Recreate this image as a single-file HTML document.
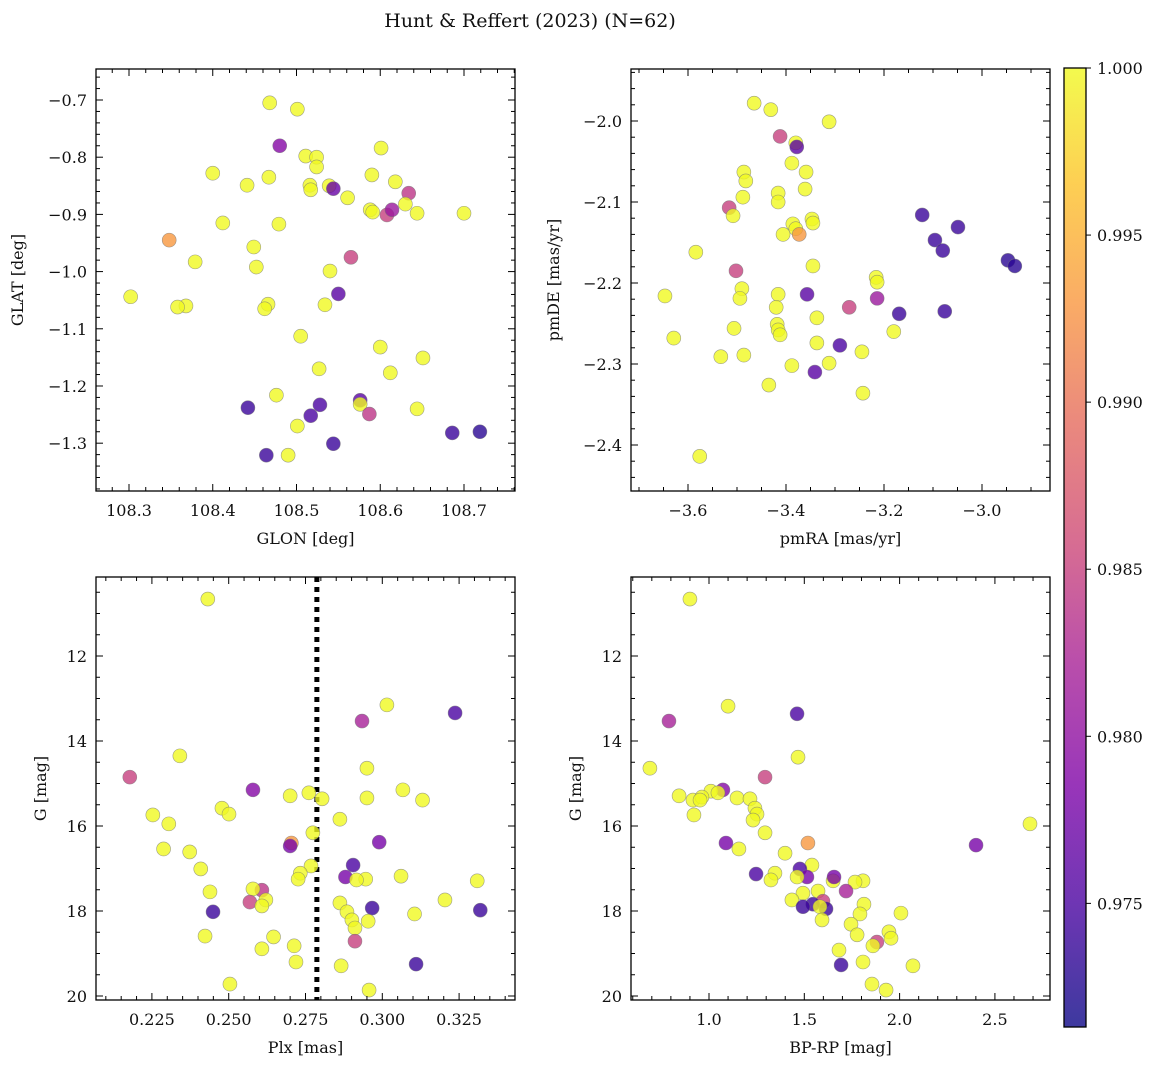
<!DOCTYPE html>
<html><head><meta charset="utf-8"><style>
body{margin:0;background:#fff}
svg text{font-family:"DejaVu Serif","Liberation Serif",serif;fill:#111}
</style></head><body>
<svg id="fig" width="1161" height="1068" xmlns="http://www.w3.org/2000/svg">
<defs><linearGradient id="cbg" x1="0" y1="1" x2="0" y2="0">
<stop offset="0" stop-color="#0d0887"/><stop offset="0.13" stop-color="#4b03a1"/><stop offset="0.25" stop-color="#7e03a8"/><stop offset="0.38" stop-color="#a82296"/><stop offset="0.5" stop-color="#cc4778"/><stop offset="0.63" stop-color="#e56b5d"/><stop offset="0.75" stop-color="#f89540"/><stop offset="0.88" stop-color="#fdc328"/><stop offset="1" stop-color="#f0f921"/></linearGradient></defs>
<text x="530" y="27" font-size="19" text-anchor="middle">Hunt &amp; Reffert (2023) (N=62)</text>
</svg>
<script>
// ---- data ----
const tlGlon=[108.468,108.501,108.480,108.511,108.524,108.524,108.601,108.400,108.467,108.590,108.516,108.517,108.539,108.544,108.441,108.618,108.634,108.630,108.561,108.588,108.591,108.608,108.614,108.644,108.700,108.412,108.479,108.348,108.449,108.379,108.452,108.565,108.540,108.550,108.302,108.466,108.534,108.368,108.358,108.462,108.505,108.651,108.600,108.527,108.612,108.476,108.576,108.576,108.528,108.644,108.442,108.587,108.517,108.501,108.544,108.686,108.719,108.464,108.490];
const tlGlat=[-0.705,-0.716,-0.780,-0.798,-0.800,-0.817,-0.784,-0.828,-0.835,-0.831,-0.849,-0.857,-0.850,-0.855,-0.849,-0.843,-0.863,-0.882,-0.871,-0.892,-0.896,-0.901,-0.892,-0.898,-0.898,-0.915,-0.917,-0.945,-0.957,-0.983,-0.992,-0.975,-0.999,-1.039,-1.044,-1.057,-1.058,-1.060,-1.062,-1.065,-1.113,-1.151,-1.132,-1.170,-1.177,-1.216,-1.225,-1.232,-1.233,-1.240,-1.238,-1.249,-1.252,-1.270,-1.301,-1.282,-1.280,-1.321,-1.321];
const tlProb=[1,1,0.979,1,1,1,1,1,1,1,1,1,1,0.977,1,1,0.984,1,1,1,1,0.985,0.981,1,1,1,1,0.993,1,1,1,0.985,1,0.976,1,1,1,1,1,1,1,1,1,1,1,1,0.976,1,0.975,1,0.974,0.984,0.975,1,0.974,0.974,0.973,0.974,1];

const trPmra=[-3.465,-3.431,-3.412,-3.380,-3.378,-3.312,-3.486,-3.482,-3.388,-3.359,-3.361,-3.416,-3.416,-3.488,-3.516,-3.508,-3.386,-3.380,-3.373,-3.347,-3.345,-3.406,-3.122,-3.096,-3.049,-3.080,-2.947,-2.933,-3.345,-3.584,-3.502,-3.216,-3.214,-3.490,-3.494,-3.647,-3.416,-3.357,-3.420,-3.271,-3.214,-3.169,-3.076,-3.418,-3.416,-3.412,-3.337,-3.629,-3.506,-3.290,-3.337,-3.180,-3.486,-3.245,-3.533,-3.312,-3.388,-3.341,-3.435,-3.243,-3.576];
const trPmde=[-1.978,-1.986,-2.019,-2.027,-2.032,-2.001,-2.063,-2.074,-2.052,-2.063,-2.084,-2.089,-2.100,-2.094,-2.107,-2.117,-2.127,-2.133,-2.140,-2.121,-2.126,-2.140,-2.116,-2.147,-2.131,-2.160,-2.172,-2.179,-2.179,-2.162,-2.185,-2.193,-2.199,-2.207,-2.219,-2.216,-2.214,-2.214,-2.230,-2.230,-2.219,-2.238,-2.235,-2.251,-2.258,-2.264,-2.243,-2.268,-2.256,-2.277,-2.274,-2.260,-2.289,-2.285,-2.291,-2.299,-2.302,-2.310,-2.326,-2.336,-2.414];
const trProb=[1,1,0.985,1,0.976,1,1,1,1,1,1,1,1,1,0.985,1,1,1,0.993,1,1,1,0.974,0.974,0.974,0.974,0.973,0.973,1,1,0.985,1,1,1,1,1,1,0.976,1,0.985,0.981,0.974,0.974,1,1,1,1,1,1,0.975,1,1,1,1,1,1,1,0.976,1,1,1];

const blPlx=[0.2432,0.3015,0.3237,0.2934,0.2341,0.2950,0.2178,0.2579,0.2761,0.3067,0.2700,0.2804,0.2950,0.3131,0.2478,0.2501,0.2253,0.2305,0.2862,0.2774,0.2990,0.2704,0.2700,0.2288,0.2373,0.2768,0.2905,0.2409,0.2733,0.2880,0.3061,0.2726,0.2946,0.2916,0.3309,0.2608,0.2579,0.2439,0.3204,0.2621,0.2569,0.2608,0.2862,0.2967,0.3319,0.2449,0.3105,0.2885,0.2901,0.2954,0.2911,0.2423,0.2646,0.2911,0.2713,0.2608,0.2719,0.2866,0.3110,0.2504,0.2957];
const blG=[10.66,13.15,13.34,13.53,14.35,14.64,14.85,15.15,15.22,15.15,15.29,15.36,15.34,15.39,15.58,15.72,15.74,15.95,15.84,16.16,16.38,16.40,16.47,16.54,16.61,16.94,16.92,17.01,17.11,17.20,17.18,17.25,17.25,17.27,17.29,17.51,17.48,17.55,17.74,17.74,17.79,17.88,17.81,17.93,17.98,18.02,18.07,18.02,18.21,18.24,18.40,18.59,18.61,18.71,18.82,18.89,19.20,19.29,19.25,19.72,19.86];
const blProb=[1,1,0.975,0.982,1,1,0.985,0.979,1,1,1,1,1,1,1,1,1,1,1,1,0.978,0.993,0.978,1,1,1,0.975,1,1,0.978,1,1,1,1,1,0.984,1,1,1,1,0.985,1,1,0.974,0.974,0.974,1,1,1,1,1,1,1,0.985,1,1,1,1,0.974,1,1];
const plxLine=0.2787;

const brColor=[0.900,1.100,1.462,0.790,1.467,0.690,1.294,1.073,1.010,0.843,0.916,0.963,1.047,0.953,1.147,1.215,1.241,1.252,0.921,1.231,2.684,1.294,2.401,1.089,1.519,1.157,1.399,1.540,1.247,1.346,1.325,1.477,1.514,1.462,1.651,1.656,1.808,1.766,1.719,1.572,1.493,1.435,1.813,1.598,1.545,1.493,1.614,1.582,2.007,1.792,1.593,1.745,1.777,1.944,1.955,1.881,1.860,1.682,1.808,1.693,2.070,1.855,1.929];
const brG=[10.66,13.18,13.36,13.53,14.38,14.64,14.85,15.15,15.18,15.29,15.39,15.32,15.22,15.39,15.34,15.36,15.58,15.72,15.74,15.86,15.95,16.16,16.45,16.40,16.40,16.54,16.64,16.92,17.13,17.11,17.27,17.01,17.20,17.20,17.29,17.20,17.29,17.32,17.53,17.53,17.58,17.74,17.84,17.77,17.84,17.90,17.95,17.90,18.05,18.07,18.21,18.31,18.56,18.49,18.64,18.73,18.82,18.92,19.20,19.27,19.29,19.72,19.86];
const brProb=[1,1,0.975,0.982,1,1,0.985,0.979,1,1,1,1,1,1,1,1,1,1,1,1,1,1,0.978,0.978,0.993,1,1,1,0.975,1,1,0.975,0.978,1,1,0.978,1,1,0.982,1,1,1,1,0.985,0.974,0.974,0.974,1,1,1,1,1,1,1,1,0.985,1,1,1,0.974,1,1,1];

const cbTicks=[0.975,0.980,0.985,0.990,0.995,1.000];
const pMin=0.9713,pMax=1.0;

// ---- rendering ----
const NS="http://www.w3.org/2000/svg";
const svg=document.getElementById('fig');
function mk(tag,attrs,parent){const e=document.createElementNS(NS,tag);for(const k in attrs)e.setAttribute(k,attrs[k]);(parent||svg).appendChild(e);return e;}
const stops=[[0,[13,8,135]],[0.13,[75,3,161]],[0.25,[126,3,168]],[0.38,[168,34,150]],[0.5,[204,71,120]],[0.63,[229,107,93]],[0.75,[248,149,64]],[0.88,[253,195,40]],[1,[240,249,33]]];
function plasma(v){let t=Math.max(0,Math.min(1,(v-pMin)/(pMax-pMin)));for(let i=1;i<stops.length;i++){if(t<=stops[i][0]){const a=stops[i-1],b=stops[i],f=(t-a[0])/(b[0]-a[0]);return 'rgb('+a[1].map((c,j)=>Math.round(c+(b[1][j]-c)*f)).join(',')+')';}}return 'rgb(240,249,33)';}
function fmt(v,d){const s=Math.abs(v).toFixed(d);return (v<-1e-9?'\u2212':'')+s;}

function panel(cfg){
  const g=mk('g',{});
  
  
  const L=cfg.box[0],T=cfg.box[1],R=cfg.box[2],B=cfg.box[3];
  const sx=v=>L+(v-cfg.xr[0])/(cfg.xr[1]-cfg.xr[0])*(R-L);
  const sy=v=>T+(v-cfg.yr[0])/(cfg.yr[1]-cfg.yr[0])*(B-T);
  if(cfg.vline!==undefined){const l=mk('line',{x1:sx(cfg.vline),x2:sx(cfg.vline),y1:T,y2:B,stroke:'#000','stroke-width':5,'stroke-dasharray':'5,5'},g);}
  for(let i=0;i<cfg.xs.length;i++){
    const c=mk('circle',{cx:sx(cfg.xs[i]),cy:sy(cfg.ys[i]),r:7,fill:plasma(cfg.ps[i]),'fill-opacity':0.8,stroke:'#777','stroke-width':0.6,'stroke-opacity':0.7},g);
    
    
  }
  if(cfg.vline!==undefined){}
  const fr=mk('rect',{x:L,y:T,width:R-L,height:B-T,fill:'none',stroke:'#000','stroke-width':1.3},g);
  
  const lo=Math.min(...cfg.xr),hi=Math.max(...cfg.xr);
  for(let k=Math.ceil(lo/cfg.xmin-1e-6);k*cfg.xmin<=hi+1e-9;k++){const v=k*cfg.xmin;const maj=Math.abs(v/cfg.xmaj-Math.round(v/cfg.xmaj))<1e-6;const len=maj?7:4;const x=sx(v);
    mk('line',{x1:x,x2:x,y1:B,y2:B-len,stroke:'#000','stroke-width':1},g);mk('line',{x1:x,x2:x,y1:T,y2:T+len,stroke:'#000','stroke-width':1},g);
    if(maj){const t=mk('text',{x:x,y:B+25,'font-size':16,'text-anchor':'middle'},g);t.textContent=fmt(v,cfg.xd);}}
  const ylo=Math.min(...cfg.yr),yhi=Math.max(...cfg.yr);
  for(let k=Math.ceil(ylo/cfg.ymin-1e-6);k*cfg.ymin<=yhi+1e-9;k++){const v=k*cfg.ymin;const maj=Math.abs(v/cfg.ymaj-Math.round(v/cfg.ymaj))<1e-6;const len=maj?7:4;const y=sy(v);
    mk('line',{x1:L,x2:L+len,y1:y,y2:y,stroke:'#000','stroke-width':1},g);mk('line',{x1:R,x2:R-len,y1:y,y2:y,stroke:'#000','stroke-width':1},g);
    if(maj){const t=mk('text',{x:L-9,y:y+6,'font-size':16,'text-anchor':'end'},g);t.textContent=fmt(v,cfg.yd);}}
  const xl=mk('text',{x:(L+R)/2,y:B+53,'font-size':16,'text-anchor':'middle'},g);xl.textContent=cfg.xlabel;
  const yl=mk('text',{x:0,y:0,'font-size':16,'text-anchor':'middle',transform:'translate('+cfg.ylx+','+((T+B)/2)+') rotate(-90)'},g);yl.textContent=cfg.ylabel;
}
panel({name:'glon-glat-panel',box:[96,69,515,491],xr:[108.2606,108.7609],yr:[-0.6458,-1.3836],xs:tlGlon,ys:tlGlat,ps:tlProb,xmaj:0.1,xmin:0.02,ymaj:0.1,ymin:0.02,xd:1,yd:1,xlabel:'GLON [deg]',ylabel:'GLAT [deg]',ylx:23});
panel({name:'proper-motion-panel',box:[631,69,1050,491],xr:[-3.7163,-2.8612],yr:[-1.9358,-2.4568],xs:trPmra,ys:trPmde,ps:trProb,xmaj:0.2,xmin:0.05,ymaj:0.1,ymin:0.02,xd:1,yd:1,xlabel:'pmRA [mas/yr]',ylabel:'pmDE [mas/yr]',ylx:559});
panel({name:'parallax-magnitude-panel',box:[96,577,515,1000],xr:[0.2068,0.3432],yr:[10.141,20.094],xs:blPlx,ys:blG,ps:blProb,xmaj:0.025,xmin:0.005,ymaj:2,ymin:0.5,xd:3,yd:0,xlabel:'Plx [mas]',ylabel:'G [mag]',ylx:46,vline:plxLine});
panel({name:'color-magnitude-panel',box:[631,577,1050,1000],xr:[0.5908,2.789],yr:[10.141,20.094],xs:brColor,ys:brG,ps:brProb,xmaj:0.5,xmin:0.1,ymaj:2,ymin:0.5,xd:1,yd:0,xlabel:'BP-RP [mag]',ylabel:'G [mag]',ylx:581});

// colorbar
const cb=mk('g',{});


const cT=68,cB=1027,cL=1064,cR=1086;
mk('rect',{x:cL,y:cT,width:cR-cL,height:cB-cT,fill:'url(#cbg)','fill-opacity':0.8},cb);
mk('rect',{x:cL,y:cT,width:cR-cL,height:cB-cT,fill:'none',stroke:'#000','stroke-width':1.3},cb);
const cy=v=>cB-(v-pMin)/(pMax-pMin)*(cB-cT);
for(const v of cbTicks){const y=cy(v);mk('line',{x1:cR,x2:cR+5,y1:y,y2:y,stroke:'#000','stroke-width':1},cb);
  const t=mk('text',{x:cR+11,y:y+6,'font-size':16},cb);t.textContent=v.toFixed(3);
  
  }
</script>
</body></html>
